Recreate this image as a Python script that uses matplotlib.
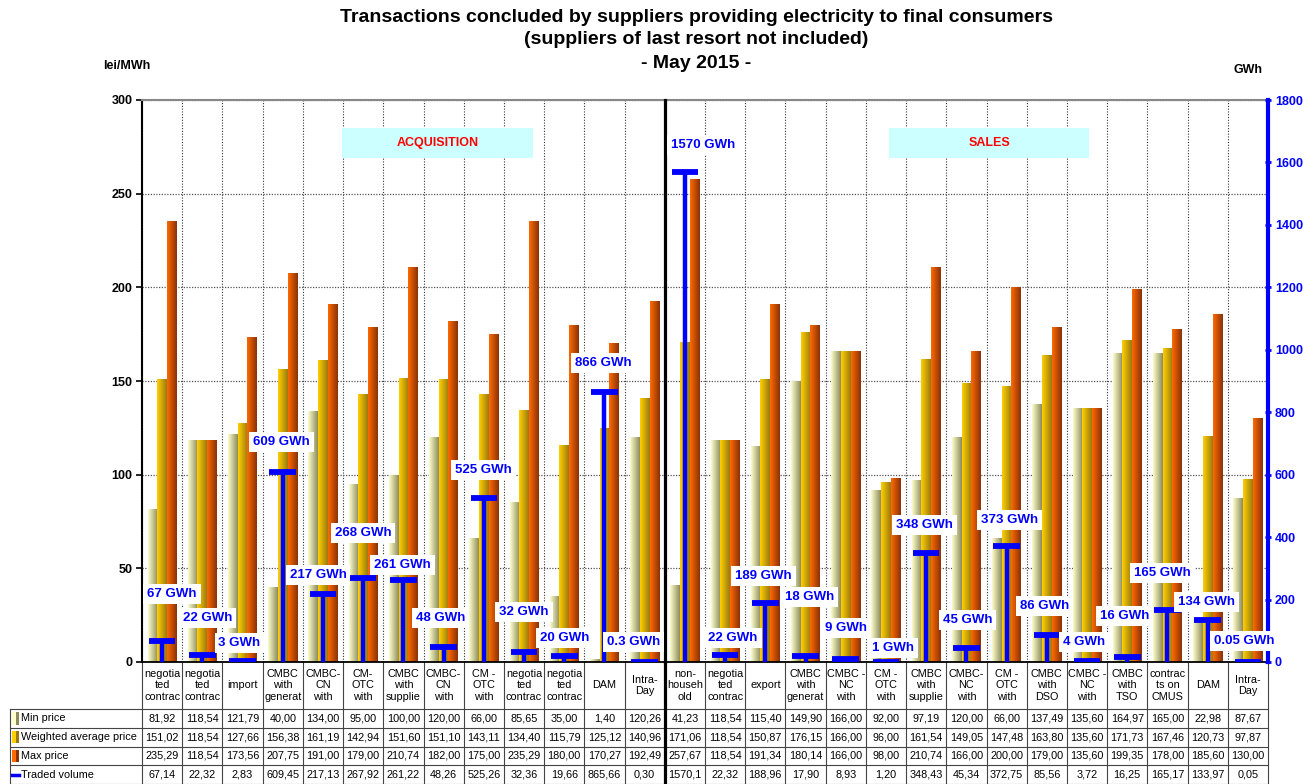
import numpy as np
import matplotlib
matplotlib.use('Agg')
import matplotlib.pyplot as plt
from matplotlib.patches import Rectangle
from matplotlib.colors import to_rgb

plt.rcParams['font.family'] = ['Liberation Sans', 'DejaVu Sans']

categories = ['negotia\nted\ncontrac', 'negotia\nted\ncontrac', 'import', 'CMBC\nwith\ngenerat',
              'CMBC-\nCN\nwith', 'CM-\nOTC\nwith', 'CMBC\nwith\nsupplie', 'CMBC-\nCN\nwith',
              'CM -\nOTC\nwith', 'negotia\nted\ncontrac', 'negotia\nted\ncontrac', 'DAM', 'Intra-\nDay',
              'non-\nhouseh\nold', 'negotia\nted\ncontrac', 'export', 'CMBC\nwith\ngenerat',
              'CMBC -\nNC\nwith', 'CM -\nOTC\nwith', 'CMBC\nwith\nsupplie', 'CMBC-\nNC\nwith',
              'CM -\nOTC\nwith', 'CMBC\nwith\nDSO', 'CMBC -\nNC\nwith', 'CMBC\nwith\nTSO',
              'contrac\nts on\nCMUS', 'DAM', 'Intra-\nDay']

min_price = [81.92, 118.54, 121.79, 40.00, 134.00, 95.00, 100.00, 120.00, 66.00, 85.65, 35.00, 1.40, 120.26,
             41.23, 118.54, 115.40, 149.90, 166.00, 92.00, 97.19, 120.00, 66.00, 137.49, 135.60, 164.97,
             165.00, 22.98, 87.67]
avg_price = [151.02, 118.54, 127.66, 156.38, 161.19, 142.94, 151.60, 151.10, 143.11, 134.40, 115.79, 125.12,
             140.96, 171.06, 118.54, 150.87, 176.15, 166.00, 96.00, 161.54, 149.05, 147.48, 163.80, 135.60,
             171.73, 167.46, 120.73, 97.87]
max_price = [235.29, 118.54, 173.56, 207.75, 191.00, 179.00, 210.74, 182.00, 175.00, 235.29, 180.00, 170.27,
             192.49, 257.67, 118.54, 191.34, 180.14, 166.00, 98.00, 210.74, 166.00, 200.00, 179.00, 135.60,
             199.35, 178.00, 185.60, 130.00]
volume = [67.14, 22.32, 2.83, 609.45, 217.13, 267.92, 261.22, 48.26, 525.26, 32.36, 19.66, 865.66, 0.30,
          1570.1, 22.32, 188.96, 17.90, 8.93, 1.20, 348.43, 45.34, 372.75, 85.56, 3.72, 16.25, 165.17,
          133.97, 0.05]

row_names = ['Min price', 'Weighted average price', 'Max price', 'Traded volume']

# label nudges in pixels (dx, dy above the cap)
lab_dx = [10, 5, -3, -1, -5, 0, -1, -3, 0, 0, 0, -1, -11, 18, 8, -2, 4, 0, 7, -2, 1, 3, -2, -3, -3, -5, -1, -4]
lab_dy = [47, 37, 18, 30, 19, 45, 15, 29, 28, 40, 18, 29, 20, 27, 17, 27, 59, 31, 14, 28, 28, 26, 29, 19, 41,
          37, 18, 21]

grad = {
    'min': ('#fdfdcc', '#8e8c5c'),
    'avg': ('#ffd000', '#9c7a10'),
    'max': ('#ff6a00', '#8a3208'),
}
blue = '#0000ff'

n = len(categories)
x = np.arange(n)

fig = plt.figure(figsize=(13.16, 7.84), dpi=100)
ax = fig.add_axes([142 / 1316, 122 / 784, 1126 / 1316, 562 / 784])
ax2 = ax.twinx()

ax.set_xlim(-0.5, n - 0.5)
ax.set_ylim(0, 300)
ax2.set_ylim(0, 1800)


def gradient_bars(xpos, heights, key):
    c0, c1 = np.array(to_rgb(grad[key][0])), np.array(to_rgb(grad[key][1]))
    t = np.linspace(0, 1, 32)[:, None]
    img = (c0 * (1 - t) + c1 * t)[None, :, :]
    bars = ax.bar(xpos, heights, width=0.24, facecolor='none', edgecolor='none', zorder=2)
    for b in bars:
        x0, w, h = b.get_x(), b.get_width(), b.get_height()
        im = ax.imshow(img, extent=[x0, x0 + w, 0, h], aspect='auto', zorder=2, interpolation='bilinear')
        im.set_clip_path(b)


gradient_bars(x - 0.24, min_price, 'min')
gradient_bars(x, avg_price, 'avg')
gradient_bars(x + 0.24, max_price, 'max')
ax.set_xlim(-0.5, n - 0.5)
ax.set_ylim(0, 300)

# grid
ax.set_xticks([])
ax.set_xticks(np.arange(-0.5, n), minor=True)
ax.tick_params(axis='x', which='minor', length=0)
ax.grid(which='minor', axis='x', color='#333333', linestyle=(0, (1, 1.5)), linewidth=0.8, zorder=0)
ax.set_yticks(np.arange(0, 301, 50))
ax.grid(which='major', axis='y', color='#555555', linestyle=(0, (1, 1.2)), linewidth=0.9, zorder=0)
ax.set_axisbelow(True)
ax.tick_params(axis='y', labelsize=9, length=4, width=1.2, direction='out', pad=3)
for lbl in ax.get_yticklabels():
    lbl.set_fontweight('bold')
ax.spines['left'].set_linewidth(1.5)
ax.spines['bottom'].set_linewidth(1.3)
ax.spines['top'].set_color('#888888')
ax.spines['top'].set_linewidth(1.5)
ax.spines['right'].set_visible(False)

# section boxes
ax.add_patch(Rectangle((4.47, 269), 4.76, 16, facecolor='#ccffff', edgecolor='none', zorder=1))
ax.text(6.85, 277, 'ACQUISITION', color='#ff0000', fontsize=9, fontweight='bold', ha='center', va='center', zorder=3)
ax.add_patch(Rectangle((18.08, 269), 4.98, 16, facecolor='#ccffff', edgecolor='none', zorder=1))
ax.text(20.57, 277, 'SALES', color='#ff0000', fontsize=9, fontweight='bold', ha='center', va='center', zorder=3)

# traded volume on secondary axis
ax2.vlines(x, 0, volume, color=blue, linewidth=3.2, zorder=4)
ax2.hlines(volume, x - 0.33, x + 0.33, color=blue, linewidth=4.2, zorder=4)
for xi, v, dx, dy in zip(x, volume, lab_dx, lab_dy):
    txt = f'{v:.0f} GWh' if v >= 1 else f'{v:g} GWh'
    ax2.annotate(txt, (xi, v), xytext=(dx, dy), textcoords='offset pixels', ha='center', va='center',
                 color=blue, fontsize=9.5, fontweight='bold', zorder=6,
                 bbox=dict(boxstyle='square,pad=0.3', facecolor='white', edgecolor='none'))

ax2.set_yticks(np.arange(0, 1801, 200))
ax2.tick_params(axis='y', colors=blue, labelsize=9, length=4, width=2, direction='inout', pad=3)
for lbl in ax2.get_yticklabels():
    lbl.set_fontweight('bold')
ax2.spines['right'].set_color(blue)
ax2.spines['right'].set_linewidth(3)
for s in ['left', 'top', 'bottom']:
    ax2.spines[s].set_visible(False)

# divider between acquisition and sales
split = 12.5
tr = ax.get_xaxis_transform()
ax2.plot([split, split], [0, 1], transform=tr, color='black', linewidth=2.3, clip_on=False, zorder=5)
ax2.plot([split, split], [0, -0.22], transform=tr, color='black', linewidth=2.3, clip_on=False, zorder=5)

# data table under the plot
hdr = 47 / 562
rh = 18.8 / 562
lab_left = -0.5 - 132 / (1126 / n)
tcol = '#444444'
y_rows = [-hdr - rh * i for i in range(5)]
for yy in y_rows:
    ax.plot([lab_left, n - 0.5], [yy, yy], transform=tr, color=tcol, lw=0.8, clip_on=False)
for xb in np.arange(-0.5, n):
    ax.plot([xb, xb], [0, y_rows[-1]], transform=tr, color=tcol, lw=0.8, clip_on=False)
ax.plot([lab_left, lab_left], [-hdr, y_rows[-1]], transform=tr, color=tcol, lw=0.8, clip_on=False)

for xi, name in zip(x, categories):
    ax.text(xi, -hdr / 2, name, transform=tr, ha='center', va='center', fontsize=7.8, linespacing=1.2)


def fmt(v):
    s = f'{v:.1f}' if v >= 1000 else f'{v:.2f}'
    return s.replace('.', ',')


rows = [min_price, avg_price, max_price, volume]
for r, vals in enumerate(rows):
    yc = -hdr - rh * (r + 0.5)
    for xi, v in zip(x, vals):
        ax.text(xi, yc, fmt(v), transform=tr, ha='center', va='center', fontsize=7.8)
    ax.text(lab_left + 0.27, yc, row_names[r], transform=tr, ha='left', va='center', fontsize=7.8)

sw = 0.18
for r, key in enumerate(['min', 'avg', 'max']):
    yc = -hdr - rh * (r + 0.5)
    c0, c1 = grad[key]
    ax.add_patch(Rectangle((lab_left + 0.05, yc - 0.011), sw / 2, 0.022, transform=tr,
                           facecolor=c0, edgecolor='none', clip_on=False))
    ax.add_patch(Rectangle((lab_left + 0.05 + sw / 2, yc - 0.011), sw / 2, 0.022, transform=tr,
                           facecolor=c1, edgecolor='none', clip_on=False))
yc = -hdr - rh * 3.5
ax.plot([lab_left + 0.06, lab_left + 0.22], [yc, yc], transform=tr, color=blue, lw=2.5, clip_on=False)

# titles
fig.text(696 / 1316, 1 - 17 / 784, 'Transactions concluded by suppliers providing electricity to final consumers',
         ha='center', va='center', fontsize=14, fontweight='bold')
fig.text(696 / 1316, 1 - 40 / 784, '(suppliers of last resort not included)',
         ha='center', va='center', fontsize=14, fontweight='bold')
fig.text(696 / 1316, 1 - 63 / 784, '- May 2015 -', ha='center', va='center', fontsize=14, fontweight='bold')
fig.text(127 / 1316, 1 - 66 / 784, 'lei/MWh', ha='center', va='center', fontsize=9, fontweight='bold')
fig.text(1248 / 1316, 1 - 70 / 784, 'GWh', ha='center', va='center', fontsize=9, fontweight='bold')

fig.savefig('out.png', dpi=100)
